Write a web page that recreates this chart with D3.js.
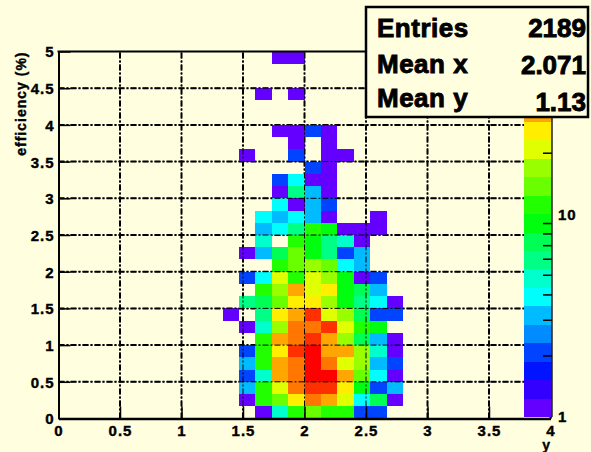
<!DOCTYPE html>
<html><head><meta charset="utf-8">
<script src="https://cdn.jsdelivr.net/npm/d3@7"></script>
<style>
html,body{margin:0;padding:0;background:#ffffe0;}
svg{display:block;}
text{font-family:"Liberation Sans",Arial,Helvetica,sans-serif;font-weight:bold;}
</style></head><body>
<svg id="c" width="591" height="452"></svg>
<script>
// ---- data ----
const xBins = 30, xRange = [0, 4];
const yBins = 30, yRange = [0, 5];
const firstCol = 10; // x-bin index of the first column in each row below
// bin contents, rows from the lowest y bin upward, columns x-bins 10..21
const counts = [
  [0,0,1,5,11,13,11,11,2,2,0,0],
  [0,1,11,13,25,37,30,20,4,7,1,0],
  [0,3,11,20,37,46,46,25,9,2,3,0],
  [0,2,5,30,37,56,56,30,13,4,1,0],
  [0,3,11,30,37,56,37,20,16,3,2,0],
  [0,2,11,25,46,56,30,30,16,5,1,0],
  [0,0,11,30,37,46,30,16,7,3,1,0],
  [0,1,5,16,37,37,46,20,11,9,0,0],
  [1,0,6,25,30,46,20,16,7,2,2,0],
  [0,6,7,13,25,25,16,9,6,4,1,0],
  [0,0,11,16,30,20,25,9,7,3,0,0],
  [0,2,4,20,11,20,16,9,1,2,0,0],
  [0,0,0,11,13,16,13,4,3,0,0,0],
  [0,1,3,7,13,9,6,2,3,0,0,0],
  [0,0,5,0,11,9,6,5,1,0,0,0],
  [0,0,3,4,6,11,9,1,1,1,0,0],
  [0,0,4,3,4,3,1,0,0,1,0,0],
  [0,0,0,4,1,3,2,0,0,0,0,0],
  [0,0,0,1,6,3,1,0,0,0,0,0],
  [0,0,0,2,4,1,1,0,0,0,0,0],
  [0,0,0,0,0,2,1,0,0,0,0,0],
  [0,1,0,0,2,0,1,1,0,0,0,0],
  [0,0,0,0,1,0,1,0,0,0,0,0],
  [0,0,0,1,1,2,1,0,0,0,0,0],
  [0,0,0,0,0,0,0,0,0,0,0,0],
  [0,0,0,0,0,0,0,0,0,0,0,0],
  [0,0,1,0,1,0,0,0,0,0,0,0],
  [0,0,0,0,0,0,0,0,0,0,0,0],
  [0,0,0,0,0,0,0,0,0,0,0,0],
  [0,0,0,1,1,0,0,0,0,0,0,0]
];
const xTicks = [0,0.5,1,1.5,2,2.5,3,3.5,4];
const xTickLabels = ["0","0.5","1","1.5","2","2.5","3","3.5","4"];
const yTicks = [0,0.5,1,1.5,2,2.5,3,3.5,4,4.5,5];
const yTickLabels = ["0","0.5","1","1.5","2","2.5","3","3.5","4","4.5","5"];
const xTitle = "y";
const yTitle = "efficiency (%)";
const statsLabels = ["Entries","Mean x","Mean y"];
const statsValues = ["2189","2.071","1.13"];
const zTicks = [1,10];
const zTickLabels = ["1","10"];
const zMinorTicks = [2,3,4,5,6,7,8,9,20];
const zAxisRange = [1, 30];
const zContourMax = 66;
const nContours = 20;

// ---- layout ----
const bg = "#ffffe0";
const svg = d3.select("#c");
svg.append("rect").attr("width",591).attr("height",452).attr("fill",bg);

const x = d3.scaleLinear().domain(xRange).range([58.5, 550.5]);
const y = d3.scaleLinear().domain(yRange).range([418.5, 51.5]);
const bw = (xRange[1]-xRange[0])/xBins, bh = (yRange[1]-yRange[0])/yBins;

// ROOT "pretty" palette (HLS hue sweep), 20 log contours
function contourColor(k){
  const idx = Math.floor((k+0.99)*50/nContours);
  const hue = 280 - (idx+1)*5.6;
  return d3.hsl(Math.max(hue,0),1,0.5).formatHex();
}
const step = Math.log10(zContourMax)/nContours;
function zColor(v){
  let k = Math.floor(Math.log10(v)/step);
  k = Math.max(0, Math.min(nContours-1, k));
  return contourColor(k);
}

const gridDash = "6,2,2,2";
function drawGrid(g, w){
  g.selectAll("line.gx").data(xTicks.filter(t=>t>xRange[0]&&t<xRange[1])).enter().append("line")
    .attr("x1",d=>x(d)).attr("x2",d=>x(d)).attr("y1",y(yRange[0])).attr("y2",y(yRange[1]))
    .attr("stroke","#000").attr("stroke-width",w).attr("stroke-dasharray",gridDash);
  g.selectAll("line.gy").data(yTicks.filter(t=>t>yRange[0]&&t<yRange[1])).enter().append("line")
    .attr("y1",d=>y(d)).attr("y2",d=>y(d)).attr("x1",x(xRange[0])).attr("x2",x(xRange[1]))
    .attr("stroke","#000").attr("stroke-width",w).attr("stroke-dasharray",gridDash);
}
drawGrid(svg.append("g"), 2);

// cells
const cells = [];
counts.forEach((row,j)=>row.forEach((v,c)=>{ if(v>0) cells.push({i:firstCol+c,j:j,v:v}); }));
svg.append("g").selectAll("rect").data(cells).enter().append("rect")
  .attr("x",d=>x(xRange[0]+d.i*bw))
  .attr("width",d=>x(xRange[0]+(d.i+1)*bw)-x(xRange[0]+d.i*bw))
  .attr("y",d=>y(yRange[0]+(d.j+1)*bh))
  .attr("height",d=>y(yRange[0]+d.j*bh)-y(yRange[0]+(d.j+1)*bh))
  .attr("fill",d=>zColor(d.v))
  .attr("shape-rendering","crispEdges");

drawGrid(svg.append("g"), 1);

// frame top/right
svg.append("line").attr("x1",x(0)-1).attr("x2",x(4)).attr("y1",y(5)).attr("y2",y(5)).attr("stroke","#000").attr("stroke-width",2);
svg.append("line").attr("x1",x(4)).attr("x2",x(4)).attr("y1",y(5)).attr("y2",y(0)).attr("stroke","#000").attr("stroke-width",2);

// axes
function minorTicks(a,b,s){ const r=[]; for(let t=a;t<=b+1e-9;t+=s) r.push(+t.toFixed(4)); return r; }
function styleText(sel, size){
  sel.attr("font-size",size).attr("font-family",'"Liberation Sans",Arial,sans-serif')
    .attr("font-weight","bold").attr("fill","#000").attr("stroke","#000").attr("stroke-width",0.4)
    .attr("letter-spacing",1);
}
const gx = svg.append("g").attr("transform",`translate(0,${y(0)})`);
gx.call(d3.axisBottom(x).tickValues(minorTicks(0,4,0.1)).tickSize(-6).tickSizeOuter(0).tickFormat(""));
gx.call(d3.axisBottom(x).tickValues(xTicks).tickSize(-12).tickSizeOuter(0).tickPadding(7)
  .tickFormat((d,i)=>xTickLabels[i]));
gx.selectAll("path.domain").attr("stroke","#000").attr("stroke-width",2.5);
gx.selectAll("line").attr("stroke","#000").attr("stroke-width",1.5);
styleText(gx.selectAll("text"), 15);

const gy = svg.append("g").attr("transform",`translate(${x(0)},0)`);
gy.call(d3.axisLeft(y).tickValues(minorTicks(0,5,0.1)).tickSize(-7).tickSizeOuter(0).tickFormat(""));
gy.call(d3.axisLeft(y).tickValues(yTicks).tickSize(-12).tickSizeOuter(0).tickPadding(4)
  .tickFormat((d,i)=>yTickLabels[i]));
gy.selectAll("path.domain").attr("stroke","#000").attr("stroke-width",2);
gy.selectAll("line").attr("stroke","#000").attr("stroke-width",1.5);
styleText(gy.selectAll("text"), 15);
gy.selectAll("text").attr("dy","0.36em");

// axis titles
styleText(svg.append("text").attr("x",551).attr("y",450).attr("text-anchor","end").text(xTitle), 14);
styleText(svg.append("text").attr("transform",`translate(26,${y(5)}) rotate(-90)`).attr("text-anchor","end")
  .text(yTitle), 14);

// palette
const zs = d3.scaleLog().domain(zAxisRange).range([417, 117.5]);
const pal = svg.append("g");
const palX0 = 524, palX1 = 552;
const bands = d3.range(nContours).map(k=>({k:k, lo:Math.pow(10,k*step), hi:Math.pow(10,(k+1)*step)}))
  .filter(b=>b.lo<zAxisRange[1]);
pal.selectAll("rect").data(bands).enter().append("rect")
  .attr("x",palX0).attr("width",palX1-palX0)
  .attr("y",d=>zs(Math.min(d.hi,zAxisRange[1])))
  .attr("height",d=>zs(d.lo)-zs(Math.min(d.hi,zAxisRange[1])))
  .attr("fill",d=>contourColor(d.k)).attr("shape-rendering","crispEdges");
pal.append("line").attr("x1",palX1).attr("x2",palX1).attr("y1",zs(zAxisRange[1])).attr("y2",zs(zAxisRange[0]))
  .attr("stroke","#222").attr("stroke-width",1.5);
pal.selectAll("line.t").data(zMinorTicks).enter().append("line")
  .attr("x1",palX1-9).attr("x2",palX1).attr("y1",d=>zs(d)).attr("y2",d=>zs(d))
  .attr("stroke","#000").attr("stroke-width",1.5);
styleText(pal.selectAll("text").data(zTicks).enter().append("text")
  .attr("x",558).attr("y",d=>zs(d)).attr("dy","0.36em")
  .text((d,i)=>zTickLabels[i]), 15);

// stats box
const sb = svg.append("g");
sb.append("rect").attr("x",366).attr("y",7).attr("width",222).attr("height",110)
  .attr("fill",bg).attr("stroke","#000").attr("stroke-width",2.5);
const rowBase = [37, 73, 107];
const valBase = [37, 74, 111];
sb.selectAll("text.l").data(statsLabels).enter().append("text")
  .attr("x",377).attr("y",(d,i)=>rowBase[i]).attr("font-size",26).attr("letter-spacing",0.5)
  .attr("stroke","#000").attr("stroke-width",0.9).text(d=>d);
sb.selectAll("text.v").data(statsValues).enter().append("text")
  .attr("x",586).attr("y",(d,i)=>valBase[i]).attr("text-anchor","end").attr("font-size",26)
  .attr("stroke","#000").attr("stroke-width",0.9).text(d=>d);
</script>
</body></html>
